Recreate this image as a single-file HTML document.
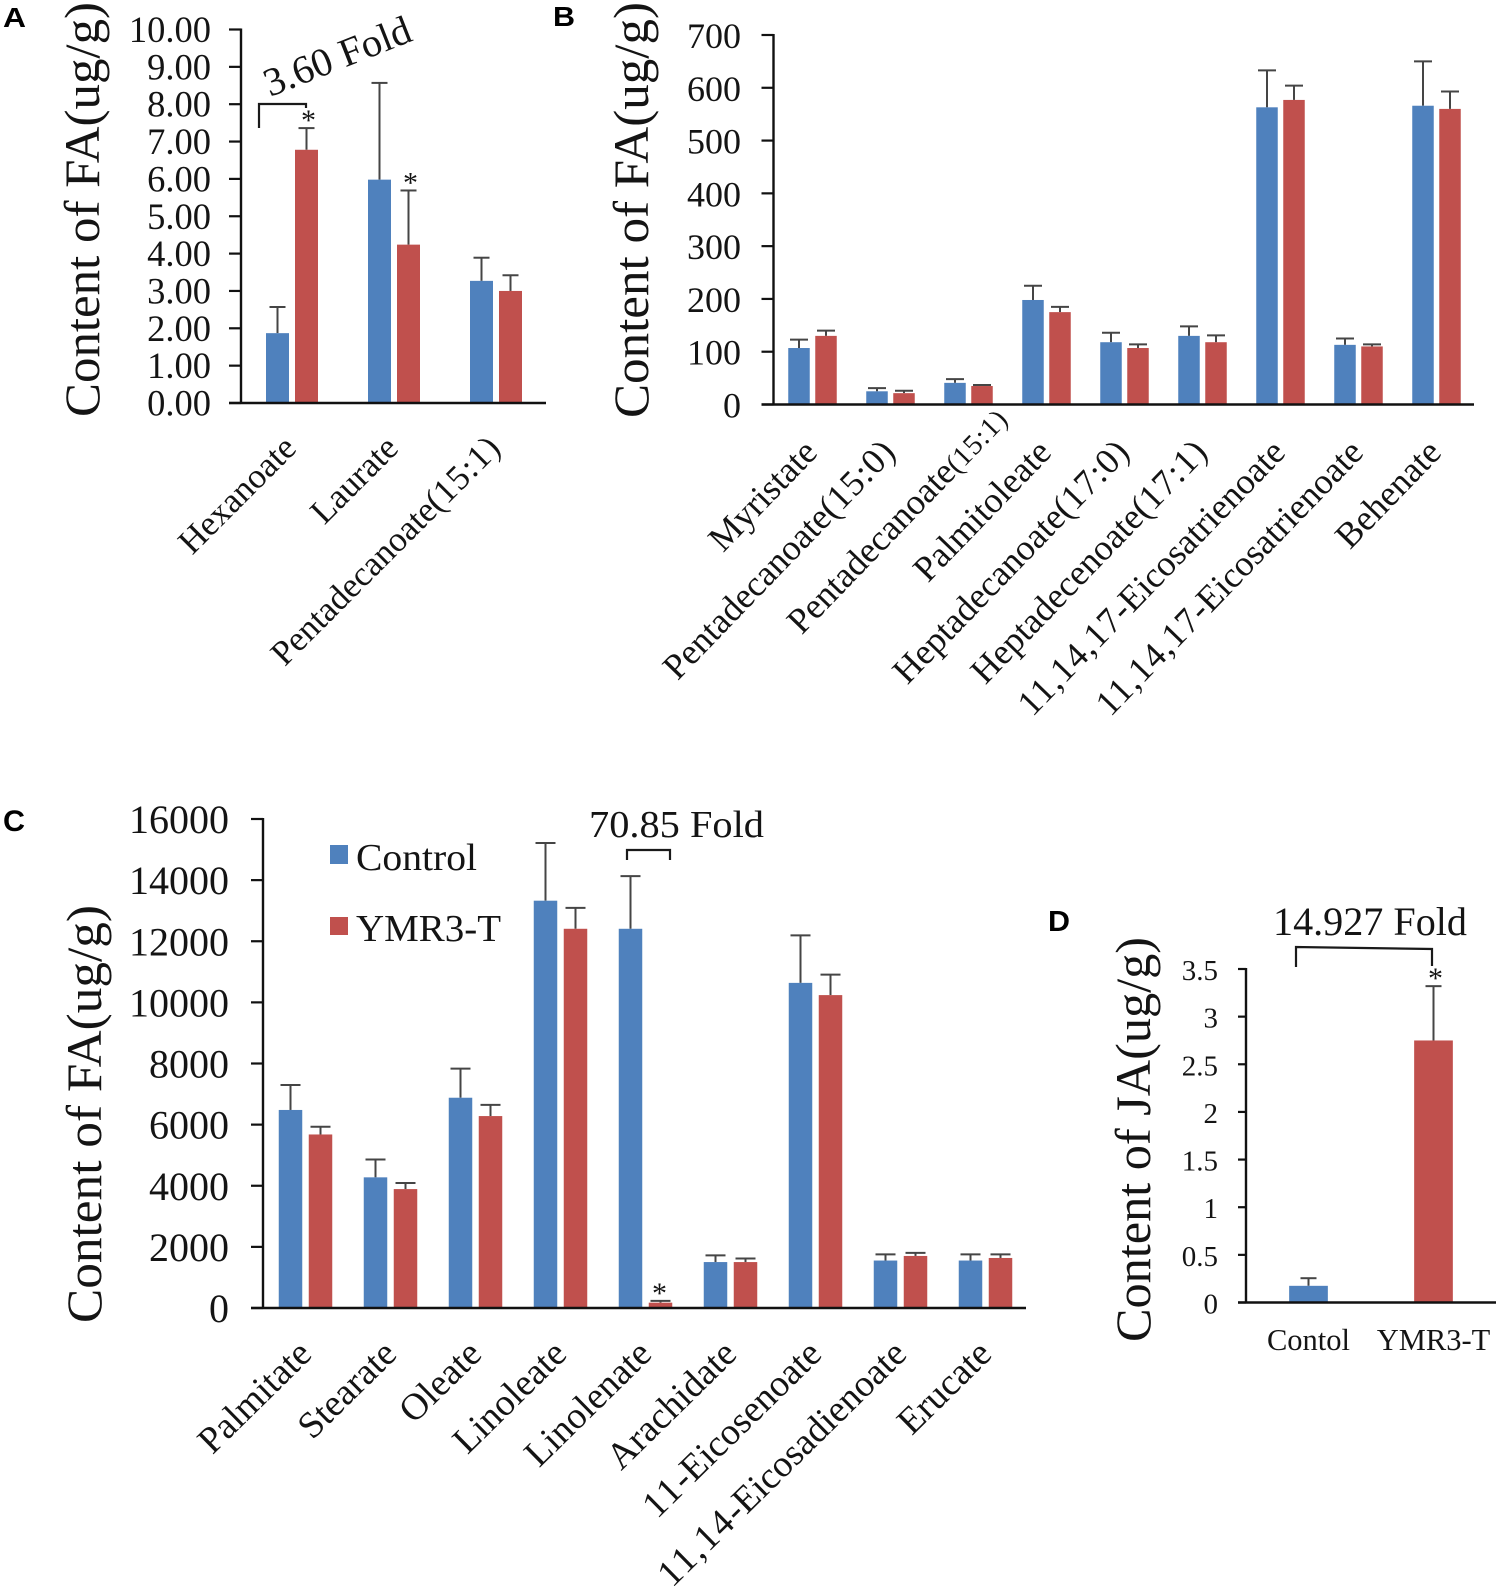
<!DOCTYPE html>
<html lang="en">
<head>
<meta charset="utf-8">
<title>Fatty acid and JA content</title>
<style>
  html, body { margin: 0; padding: 0; background: #fff; }
  svg { display: block; }
  text { font-family: "Liberation Serif", serif; fill: #141414; }
  .letter { font-family: "Liberation Sans", sans-serif; font-weight: 700; fill: #000; }
  .bracket { fill: none; stroke: #1a1a1a; stroke-width: 2.2; }
</style>
</head>
<body>
<svg id="figure" xmlns="http://www.w3.org/2000/svg" width="1500" height="1590" viewBox="0 0 1500 1590">
  <rect x="0" y="0" width="1500" height="1590" fill="#fff"/>
  <text class="letter" x="3" y="27" font-size="28" textLength="23" lengthAdjust="spacingAndGlyphs">A</text>
  <text class="letter" x="553" y="26" font-size="28" textLength="22" lengthAdjust="spacingAndGlyphs">B</text>
  <text class="letter" x="3" y="831" font-size="30" textLength="22" lengthAdjust="spacingAndGlyphs">C</text>
  <text class="letter" x="1048" y="931" font-size="29" textLength="22" lengthAdjust="spacingAndGlyphs">D</text>

  <path class="bracket" d="M259 128 V104 H306 V108"/>
  <text font-size="40" transform="translate(270 97) rotate(-21.5)" textLength="155" lengthAdjust="spacingAndGlyphs">3.60 Fold</text>

  <path class="bracket" d="M627 860 V850 H670 V860"/>
  <text font-size="38" x="589" y="837" textLength="175" lengthAdjust="spacingAndGlyphs">70.85 Fold</text>

  <path class="bracket" d="M1296 967 V947 L1432 949 V966"/>
  <text font-size="40" x="1273" y="935" textLength="194" lengthAdjust="spacingAndGlyphs">14.927 Fold</text>

  <g>
    <rect x="330" y="845" width="18" height="19" fill="#4f81bd"/>
    <text font-size="38" x="356" y="870" textLength="121" lengthAdjust="spacingAndGlyphs">Control</text>
    <rect x="330" y="917" width="18" height="18" fill="#c0504d"/>
    <text font-size="38" x="356" y="941" textLength="145" lengthAdjust="spacingAndGlyphs">YMR3-T</text>
  </g>
</svg>
<script>
// Panel A data
const catsA = ['Hexanoate', 'Laurate', 'Pentadecanoate(15:1)'];
const controlA = [1.87, 5.98, 3.27];
const controlTopA = [2.57, 8.57, 3.89];
const ymrA = [6.78, 4.24, 3.0];
const ymrTopA = [7.36, 5.69, 3.42];
const ticksA = ['0.00', '1.00', '2.00', '3.00', '4.00', '5.00', '6.00', '7.00', '8.00', '9.00', '10.00'];

// Panel B data
const catsB = ['Myristate', 'Pentadecanoate(15:0)', 'Pentadecanoate(15:1)', 'Palmitoleate', 'Heptadecanoate(17:0)', 'Heptadecenoate(17:1)', '11,14,17-Eicosatrienoate', '11,14,17-Eicosatrienoate', 'Behenate'];
const controlB = [107, 25, 41, 198, 118, 130, 563, 113, 566];
const controlTopB = [123, 31, 48, 225, 136, 148, 633, 125, 650];
const ymrB = [130, 21.5, 35, 175, 107, 118, 577, 110, 560];
const ymrTopB = [140, 26, 37, 185, 114, 131, 604, 114, 593];
const ticksB = ['0', '100', '200', '300', '400', '500', '600', '700'];

// Panel C data
const catsC = ['Palmitate', 'Stearate', 'Oleate', 'Linoleate', 'Linolenate', 'Arachidate', '11-Eicosenoate', '11,14-Eicosadienoate', 'Erucate'];
const controlC = [6480, 4275, 6880, 13327, 12408, 1503, 10638, 1553, 1553];
const controlTopC = [7298, 4860, 7833, 15215, 14129, 1720, 12192, 1754, 1754];
const ymrC = [5678, 3891, 6280, 12408, 175, 1503, 10238, 1703, 1637];
const ymrTopC = [5929, 4092, 6647, 13094, 234, 1620, 10906, 1804, 1754];
const ticksC = ['0', '2000', '4000', '6000', '8000', '10000', '12000', '14000', '16000'];

// Panel D data
const catsD = ['Contol', 'YMR3-T'];
const valuesD = [0.175, 2.75];
const valueTopsD = [0.255, 3.32];
const ticksD = ['0', '0.5', '1', '1.5', '2', '2.5', '3', '3.5'];

const NS = 'http://www.w3.org/2000/svg';
const svg = document.getElementById('figure');
const BLUE = '#4f81bd';
const RED = '#c0504d';

function line(parent, x1, y1, x2, y2, color, w) {
  const el = document.createElementNS(NS, 'line');
  el.setAttribute('x1', x1);
  el.setAttribute('y1', y1);
  el.setAttribute('x2', x2);
  el.setAttribute('y2', y2);
  el.setAttribute('stroke', color);
  el.setAttribute('stroke-width', w);
  parent.appendChild(el);
  return el;
}

// Digits in the reference labels are set wider than the letters.
function fillLabel(parent, str, spacing) {
  str.split(/([\d,:]+)/).forEach(part => {
    if (!part) return;
    if (spacing && /^[\d,:]+$/.test(part)) {
      const sp = document.createElementNS(NS, 'tspan');
      sp.setAttribute('letter-spacing', spacing);
      sp.textContent = part;
      parent.appendChild(sp);
    } else {
      parent.appendChild(document.createTextNode(part));
    }
  });
}

function drawPanel(p) {
  const g = document.createElementNS(NS, 'g');
  
  
  svg.appendChild(g);

  const yMax = parseFloat(p.ticks[p.ticks.length - 1]);
  const y = v => p.y0 - (v / yMax) * (p.y0 - p.yTop);
  const center = i => p.x0 + p.band * (i + 0.5);

  // bars and error bars
  p.series.forEach(s => {
    s.values.forEach((v, i) => {
      if (v === null) return;
      const cx = center(i) + s.offset;
      const err = line(g, cx, y(v), cx, y(s.tops[i]), '#454545', 2);
      
      
      const cap = line(g, cx - p.cap, y(s.tops[i]), cx + p.cap, y(s.tops[i]), '#454545', 2);
      
      
      const bar = document.createElementNS(NS, 'rect');
      
      
      bar.setAttribute('x', cx - p.barW / 2);
      bar.setAttribute('y', y(v));
      bar.setAttribute('width', p.barW);
      bar.setAttribute('height', p.y0 - y(v));
      bar.setAttribute('fill', s.color);
      g.appendChild(bar);
    });
  });

  // significance stars
  p.stars.forEach(st => {
    const s = p.series[st.series];
    const t = document.createElementNS(NS, 'text');
    
    
    t.setAttribute('x', center(st.index) + s.offset + p.starDx);
    t.setAttribute('y', y(s.tops[st.index]) + 2);
    t.setAttribute('text-anchor', 'middle');
    t.setAttribute('font-size', 30);
    t.textContent = '*';
    g.appendChild(t);
  });

  // axes
  const yAxis = line(g, p.x0, p.yTop - 1, p.x0, p.y0 + 1, '#111', 2.4);
  
  
  const xAxis = line(g, p.tickLeft, p.y0, p.xEnd, p.y0, '#111', 2.4);
  
  

  // y ticks
  p.ticks.forEach(label => {
    const v = parseFloat(label);
    const tick = line(g, p.tickLeft, y(v), p.x0, y(v), '#111', 2.2);
    
    
    const t = document.createElementNS(NS, 'text');
    
    
    t.setAttribute('x', p.tickLabelX);
    t.setAttribute('y', y(v) + p.tickLabelDy);
    t.setAttribute('text-anchor', 'end');
    t.setAttribute('font-size', p.tickFont);
    t.textContent = label;
    g.appendChild(t);
  });

  // y title
  const title = document.createElementNS(NS, 'text');
  
  
  title.setAttribute('transform', 'translate(' + p.titleX + ' ' + p.titleBottom + ') rotate(-90)');
  title.setAttribute('font-size', p.titleFont);
  title.setAttribute('textLength', p.titleLen);
  title.setAttribute('lengthAdjust', 'spacingAndGlyphs');
  title.textContent = p.title;
  g.appendChild(title);

  // category labels
  p.cats.forEach((c, i) => {
    const t = document.createElementNS(NS, 'text');
    
    
    t.setAttribute('font-size', p.labelFont);
    t.setAttribute('text-anchor', p.labelAngle ? 'end' : 'middle');
    const nudge = (p.nudge && p.nudge[i]) || [0, 0];
    const lx = center(i) + p.labelDx + nudge[0];
    const ly = p.y0 + p.labelDy + nudge[1];
    if (p.labelAngle) {
      t.setAttribute('transform', 'translate(' + lx + ' ' + ly + ') rotate(' + (-p.labelAngle) + ')');
    } else {
      t.setAttribute('x', lx);
      t.setAttribute('y', ly);
    }
    if (p.smallSuffix === i) {
      const cut = c.indexOf('(');
      fillLabel(t, c.slice(0, cut), 0);
      const sm = document.createElementNS(NS, 'tspan');
      sm.setAttribute('font-size', p.labelFont * 0.8);
      fillLabel(sm, c.slice(cut), p.digitSpacing);
      t.appendChild(sm);
    } else {
      fillLabel(t, c, p.digitSpacing);
    }
    g.appendChild(t);
  });
}

drawPanel({
  id: 'a', cats: catsA, ticks: ticksA, title: 'Content of FA(ug/g)',
  x0: 241, band: 102, y0: 403, yTop: 29.5, xEnd: 546, tickLeft: 229,
  barW: 23, cap: 8, starDx: 2,
  series: [
    { name: 'control', color: BLUE, offset: -14.5, values: controlA, tops: controlTopA },
    { name: 'ymr3-t', color: RED, offset: 14.5, values: ymrA, tops: ymrTopA }
  ],
  stars: [{ series: 1, index: 0 }, { series: 1, index: 1 }],
  tickLabelX: 211, tickLabelDy: 12.5, tickFont: 36.5,
  titleX: 99, titleBottom: 417, titleFont: 50, titleLen: 415,
  labelFont: 35, labelAngle: 45, labelDx: 6, labelDy: 47, digitSpacing: 1
});

drawPanel({
  id: 'b', cats: catsB, ticks: ticksB, title: 'Content of FA(ug/g)',
  x0: 773.5, band: 78, y0: 404.5, yTop: 35, xEnd: 1474, tickLeft: 761.5,
  barW: 21.5, cap: 9, starDx: 0,
  series: [
    { name: 'control', color: BLUE, offset: -13.5, values: controlB, tops: controlTopB },
    { name: 'ymr3-t', color: RED, offset: 13.5, values: ymrB, tops: ymrTopB }
  ],
  stars: [],
  tickLabelX: 741, tickLabelDy: 13, tickFont: 36,
  titleX: 648, titleBottom: 418, titleFont: 50, titleLen: 416,
  labelFont: 36, labelAngle: 46, labelDx: 6.5, labelDy: 49.5, digitSpacing: 1,
  nudge: { 2: [34, -33] }, smallSuffix: 2
});

drawPanel({
  id: 'c', cats: catsC, ticks: ticksC, title: 'Content of FA(ug/g)',
  x0: 263, band: 85, y0: 1308, yTop: 819, xEnd: 1026, tickLeft: 251,
  barW: 23.5, cap: 10, starDx: -1,
  series: [
    { name: 'control', color: BLUE, offset: -15, values: controlC, tops: controlTopC },
    { name: 'ymr3-t', color: RED, offset: 15, values: ymrC, tops: ymrTopC }
  ],
  stars: [{ series: 1, index: 4 }],
  tickLabelX: 229, tickLabelDy: 14, tickFont: 40,
  titleX: 101, titleBottom: 1323, titleFont: 50, titleLen: 418,
  labelFont: 37.5, labelAngle: 44.5, labelDx: 8, labelDy: 48, digitSpacing: 1.8
});

drawPanel({
  id: 'd', cats: catsD, ticks: ticksD, title: 'Content of JA(ug/g)',
  x0: 1246, band: 125, y0: 1302.5, yTop: 969, xEnd: 1496, tickLeft: 1238,
  barW: 38.7, cap: 8, starDx: 2,
  series: [
    { name: 'control', color: BLUE, offset: 0, values: [valuesD[0], null], tops: [valueTopsD[0], null] },
    { name: 'ymr3-t', color: RED, offset: 0, values: [null, valuesD[1]], tops: [null, valueTopsD[1]] }
  ],
  stars: [{ series: 1, index: 1 }],
  tickLabelX: 1218, tickLabelDy: 11, tickFont: 29,
  titleX: 1150, titleBottom: 1342, titleFont: 50, titleLen: 405,
  labelFont: 30.5, labelAngle: 0, labelDx: 0, labelDy: 47.5, digitSpacing: 0
});
</script>
</body>
</html>
